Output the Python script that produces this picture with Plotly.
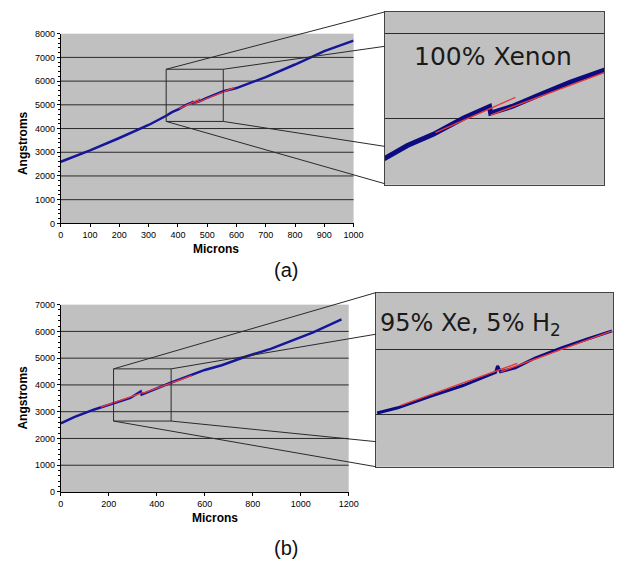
import plotly.graph_objects as go

# ---------------- data ----------------
# (a) 100% Xenon : main scan
a_x = [0, 100, 200, 300, 360, 380, 403, 430, 450, 453, 454, 473, 497, 525, 555, 600, 700, 800, 851, 900, 1000]
a_y = [2600, 3080, 3600, 4150, 4540, 4690, 4820, 5011, 5115, 5146, 5069, 5146, 5280, 5433, 5570, 5707, 6170, 6700, 7000, 7266, 7710]
# (a) linear fits (red)
a_fit1_x = [405, 476]
a_fit1_y = [4840, 5253]
a_fit2_x = [454, 595]
a_fit2_y = [5046, 5740]
# (a) zoom box
a_box_x = [360, 555]
a_box_y = [4300, 6500]

# (b) 95% Xe, 5% H2 : main scan
b_x = [0, 58, 140, 222, 290, 333, 337, 453, 535, 600, 671, 766, 875, 1052, 1170]
b_y = [2560, 2805, 3084, 3330, 3513, 3760, 3640, 4064, 4330, 4560, 4736, 5044, 5349, 5961, 6450]
b_fit1_x = [167, 345]
b_fit1_y = [3172, 3720]
b_fit2_x = [343, 546]
b_fit2_y = [3697, 4350]
b_box_x = [220, 460]
b_box_y = [2650, 4600]

# (b) inset (separately scaled chart)
bi_x = [221, 242, 275, 308, 341, 343, 346, 361, 381, 407, 434, 459]
bi_y = [3021, 3102, 3280, 3447, 3650, 3752, 3660, 3721, 3873, 4025, 4167, 4294]
bi_fit1_x = [245, 363]
bi_fit1_y = [3140, 3790]
bi_fit2_x = [346, 459]
bi_fit2_y = [3660, 4294]

a_grid = list(range(1000, 8000, 1000))
b_grid = list(range(1000, 7000, 1000))
a_xdtick, a_ydtick = 100, 1000
b_xdtick, b_ydtick = 200, 1000

# ---------------- layout geometry ----------------
W, H = 627, 569
def px(v):
    return v / W
def py(v):
    return 1 - v / H

A_X = [px(59), px(358)]
A_Y = [py(222.3), py(29.2)]
AI_X = [px(390), px(614)]
AI_Y = [py(183), py(7)]
B_X = [px(59), px(353)]
B_Y = [py(495.7), py(305)]
BI_X = [px(381), px(623)]
BI_Y = [py(470), py(292.7)]

A_XR = [0, 1000]
A_YR = [0, 8000]
AI_XR = [360, 555]
AI_YR = [4230, 6253]
B_XR = [0, 1200]
B_YR = [0, 7000]
BI_XR = [220, 460]
BI_YR = [2189, 4887]

BLUE = "#16169a"
BLUE_DK = "#0c0c80"
RED = "#e83a3a"
GRAY = "#c0c0c0"
LINE = "#2a2a2a"

fig = go.Figure()

def add(x, y, xa, ya, color, width):
    fig.add_trace(go.Scatter(x=x, y=y, mode="lines", xaxis=xa, yaxis=ya,
                             line=dict(color=color, width=width), showlegend=False,
                             hoverinfo="skip"))

add(a_x, a_y, "x", "y", BLUE, 2.5)
add(a_fit1_x, a_fit1_y, "x", "y", RED, 1.3)
add(a_fit2_x, a_fit2_y, "x", "y", RED, 1.3)

add(a_x, a_y, "x2", "y2", BLUE_DK, 5)
add(a_fit1_x, a_fit1_y, "x2", "y2", RED, 1.3)
add(a_fit2_x, a_fit2_y, "x2", "y2", RED, 1.3)

add(b_x, b_y, "x3", "y3", BLUE, 2.5)
add(b_fit1_x, b_fit1_y, "x3", "y3", RED, 1.3)
add(b_fit2_x, b_fit2_y, "x3", "y3", RED, 1.3)

add(bi_x, bi_y, "x4", "y4", BLUE_DK, 3)
add(bi_fit1_x, bi_fit1_y, "x4", "y4", RED, 1.3)
add(bi_fit2_x, bi_fit2_y, "x4", "y4", RED, 1.3)

tickfont = dict(family="Arial, Liberation Sans", size=9, color="black")

def main_x(dom, rng, dt, anchor):
    return dict(domain=dom, range=rng, anchor=anchor, tick0=0, dtick=dt,
                ticks="outside", ticklen=3, tickcolor="black", showline=True,
                linecolor="black", linewidth=1, showgrid=False, zeroline=False,
                tickfont=tickfont)

def main_y(dom, rng, dt, anchor):
    return dict(domain=dom, range=rng, anchor=anchor, tick0=0, dtick=dt,
                ticks="outside", ticklen=3, tickcolor="black", showline=True,
                linecolor="black", linewidth=1, showgrid=False, zeroline=False,
                tickfont=tickfont,
                minor=dict(ticks="outside", ticklen=2, dtick=200, tick0=0,
                           tickcolor="black", tickwidth=1, showgrid=False))

def inset_x(dom, rng, anchor):
    return dict(domain=dom, range=rng, anchor=anchor, showticklabels=False,
                ticks="", showgrid=False, zeroline=False, showline=True,
                mirror=True, linecolor="#444444", linewidth=1)

def inset_y(dom, rng, anchor):
    return dict(domain=dom, range=rng, anchor=anchor, showticklabels=False,
                ticks="", showgrid=True, gridcolor=LINE, gridwidth=1,
                dtick=1000, tick0=0, zeroline=False, showline=True,
                mirror=True, linecolor="#444444", linewidth=1)

fig.update_layout(
    width=W, height=H, margin=dict(l=0, r=0, t=0, b=0),
    paper_bgcolor="white", plot_bgcolor=GRAY,
    xaxis=main_x(A_X, A_XR, a_xdtick, "y"),
    yaxis=main_y(A_Y, A_YR, a_ydtick, "x"),
    xaxis2=inset_x(AI_X, AI_XR, "y2"),
    yaxis2=inset_y(AI_Y, AI_YR, "x2"),
    xaxis3=main_x(B_X, B_XR, b_xdtick, "y3"),
    yaxis3=main_y(B_Y, B_YR, b_ydtick, "x3"),
    xaxis4=inset_x(BI_X, BI_XR, "y4"),
    yaxis4=inset_y(BI_Y, BI_YR, "x4"),
)

shapes = []
for v in a_grid:
    shapes.append(dict(type="line", xref="x domain", yref="y", x0=0, x1=1, y0=v, y1=v,
                       line=dict(color=LINE, width=1), layer="below"))
for v in b_grid:
    shapes.append(dict(type="line", xref="x3 domain", yref="y3", x0=0, x1=1, y0=v, y1=v,
                       line=dict(color=LINE, width=1), layer="below"))

# zoom boxes
shapes.append(dict(type="rect", xref="x", yref="y", x0=a_box_x[0], x1=a_box_x[1],
                   y0=a_box_y[0], y1=a_box_y[1], line=dict(color=LINE, width=1)))
shapes.append(dict(type="rect", xref="x3", yref="y3", x0=b_box_x[0], x1=b_box_x[1],
                   y0=b_box_y[0], y1=b_box_y[1], line=dict(color=LINE, width=1)))

def to_paper(v, dom, rng):
    return dom[0] + (v - rng[0]) / (rng[1] - rng[0]) * (dom[1] - dom[0])

def connectors(bx, by, xd, yd, xr, yr, idom_x, idom_y, fracs):
    corners = [(bx[0], by[1]), (bx[1], by[1]), (bx[1], by[0]), (bx[0], by[0])]
    out = []
    for (cx, cy), f in zip(corners, fracs):
        x0 = to_paper(cx, xd, xr)
        y0 = to_paper(cy, yd, yr)
        x1 = idom_x[0]
        y1 = idom_y[1] - f * (idom_y[1] - idom_y[0])
        out.append(dict(type="line", xref="paper", yref="paper", x0=x0, y0=y0,
                        x1=x1, y1=y1, line=dict(color=LINE, width=1)))
    return out

shapes += connectors(a_box_x, a_box_y, A_X, A_Y, A_XR, A_YR, AI_X, AI_Y,
                     [0.0, 0.199, 0.778, 0.994])
shapes += connectors(b_box_x, b_box_y, B_X, B_Y, B_XR, B_YR, BI_X, BI_Y,
                     [0.0, 0.239, 0.856, 1.0])
fig.update_layout(shapes=shapes)

title_font = dict(family="Arial, Liberation Sans", size=12, color="black")
ann = [
    dict(text="<b>Angstroms</b>", x=px(20), y=py(141), textangle=-90, font=title_font),
    dict(text="<b>Microns</b>", x=px(218), y=py(248), font=title_font),
    dict(text="<b>Angstroms</b>", x=px(20), y=py(400), textangle=-90, font=title_font),
    dict(text="<b>Microns</b>", x=px(216), y=py(522), font=title_font),
    dict(text="(a)", x=px(289), y=py(270),
         font=dict(family="Arial, Liberation Sans", size=20, color="#111")),
    dict(text="(b)", x=px(289), y=py(553),
         font=dict(family="Arial, Liberation Sans", size=20, color="#111")),
    dict(text="100% Xenon", x=px(500), y=py(52),
         font=dict(family="DejaVu Sans", size=25, color="#1a1a1a")),
    dict(text="95% Xe, 5% H<sub>2</sub>", x=px(383), y=py(325), xanchor="left",
         font=dict(family="DejaVu Sans", size=24, color="#1a1a1a")),
]
for a in ann:
    a.update(xref="paper", yref="paper", showarrow=False)
    a.setdefault("xanchor", "center")
    a.setdefault("yanchor", "middle")
fig.update_layout(annotations=ann)

fig.write_html("out.html")
